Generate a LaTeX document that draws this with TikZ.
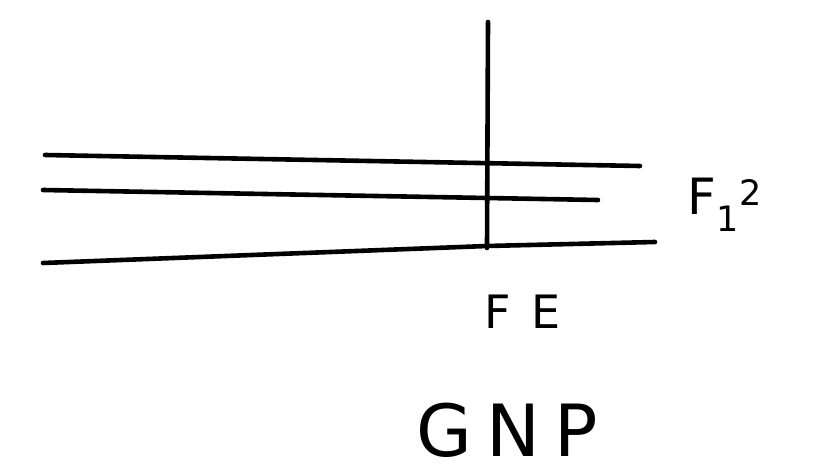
\documentclass[tikz,border=0pt]{standalone}
\usepackage{fontspec}
\setmainfont{DejaVu Sans}
\begin{document}
\begin{tikzpicture}[x=1pt,y=-1pt,
  stroke/.style={line width=4.6pt,line cap=round},
  lbl/.style={inner sep=0pt,anchor=center}]
\useasboundingbox[fill=white] (0,0) rectangle (815,476);
% axis
\coordinate (vtop) at (488,22);
\coordinate (vbot) at (487,248);
\draw[stroke] (vtop) -- (vbot);
% curves
\coordinate (a1) at (45,155);
\coordinate (a2) at (640,166);
\draw[stroke] (a1) -- (a2);
\coordinate (b1) at (43,190);
\coordinate (b2) at (598,200);
\draw[stroke] (b1) -- (b2);
\coordinate (c1) at (43,263);
\coordinate (c2) at (487,246);
\coordinate (c3) at (655,242);
\draw[stroke] (c1) -- (c2) -- (c3);
% labels
\node[lbl,font=\fontsize{50}{50}\selectfont] (fone) at (725,205) {F$_{\mathrm{1}}{}^{\mathrm{2}}$};
\node[lbl,font=\fontsize{46}{46}\selectfont] (fe) at (523,312) {F\hspace{0.45em}E};
\node[lbl,font=\fontsize{72}{72}\selectfont] (gnp) at (507,430) {G\hspace{0.2em}N\hspace{0.2em}P};
\end{tikzpicture}
\end{document}
